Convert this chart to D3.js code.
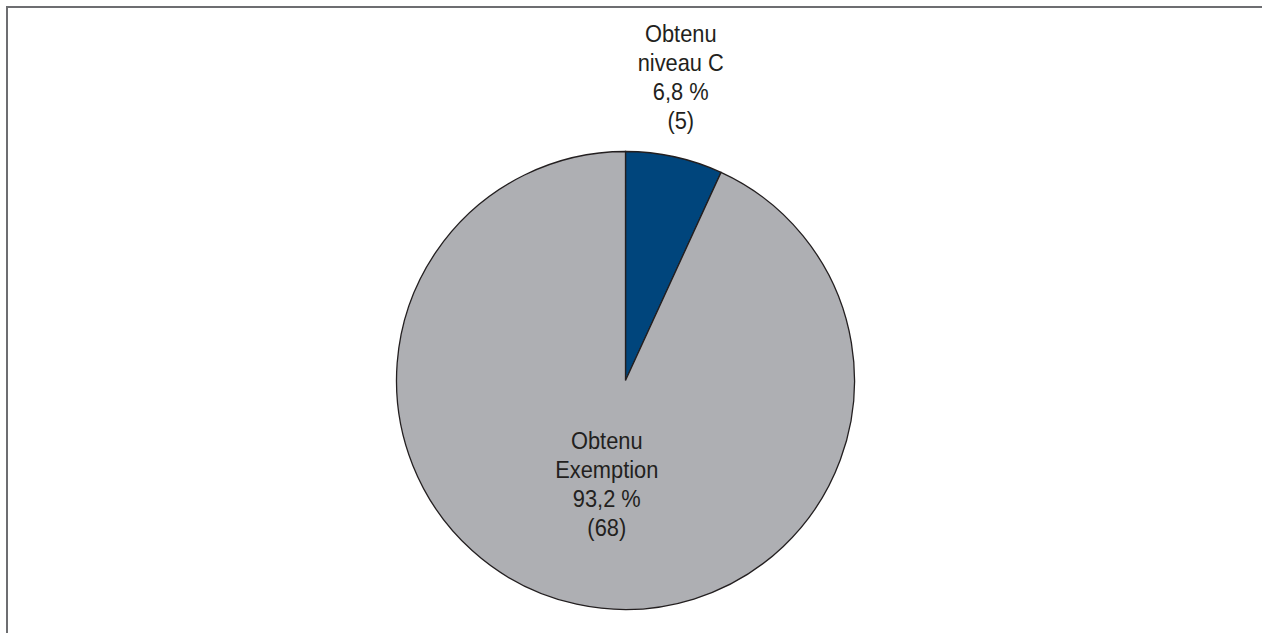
<!DOCTYPE html>
<html>
<head>
<meta charset="utf-8">
<script src="https://cdn.jsdelivr.net/npm/d3@7"></script>
<style>
  html, body { margin: 0; padding: 0; background: #fff; }
  svg { display: block; }
  .lbl { font-family: "Liberation Sans", Arial, sans-serif; font-size: 24px; fill: #231f20; }
</style>
</head>
<body>
<svg id="chart"></svg>
<script>
// data
var categories = [["Obtenu", "niveau C"], ["Obtenu", "Exemption"]];
var counts = [5, 68];
var colors = ["#00457c", "#aeafb3"];

var width = 1262, height = 633;
var cx = 625.5, cy = 380.5, radius = 229;
var lineH = 29;

var svg = d3.select("#chart").attr("width", width).attr("height", height);

// frame, only left and top edges show
svg.append("path")
  .attr("d", "M7," + (height + 5) + " L7,7 L" + (width + 5) + ",7")
  .attr("fill", "none")
  .attr("stroke", "#6d6e71")
  .attr("stroke-width", 2);

var total = d3.sum(counts);

var piedata = d3.pie().sort(null).value(function(d) { return d.value; })(
  counts.map(function(d, i) { return { value: d, cat: categories[i], color: colors[i] }; })
);

var arc = d3.arc().innerRadius(0).outerRadius(radius);
var innerLabelArc = d3.arc().innerRadius(0).outerRadius(radius * 0.93);

var g = svg.append("g").attr("transform", "translate(" + cx + "," + cy + ")");

g.selectAll("path.slice")
  .data(piedata)
  .enter()
  .append("path")
  .classed("slice", true)
  .attr("d", arc)
  .attr("fill", function(d) { return d.data.color; })
  .attr("stroke", "#231f20")
  .attr("stroke-width", 1.3);

function pctText(v) {
  return (v / total * 100).toFixed(1).replace(".", ",") + " %";
}

piedata.forEach(function(d) {
  var lines = d.data.cat.concat([pctText(d.value), "(" + d.value + ")"]);
  var mid = (d.startAngle + d.endAngle) / 2;
  var small = (d.endAngle - d.startAngle) < Math.PI / 4;
  var x, yCenter;
  if (small) {
    // small slice: label sits above the pie
    x = Math.sin(mid) * radius * 1.13;
    yCenter = -radius - 74;
  } else {
    var c = innerLabelArc.centroid(d);
    x = c[0] + 4;
    yCenter = c[1];
  }
  var firstBase = yCenter - (lines.length - 1) * lineH / 2 + 8;
  // condensed look: squeeze the text horizontally
  var t = g.append("g")
    .attr("transform", "translate(" + x + ",0) scale(0.91,1)")
    .append("text")
    .attr("class", "lbl")
    .attr("text-anchor", "middle");
  lines.forEach(function(s, i) {
    t.append("tspan")
      .attr("x", 0)
      .attr("y", firstBase + i * lineH)
      .text(s);
  });
});
</script>
</body>
</html>
